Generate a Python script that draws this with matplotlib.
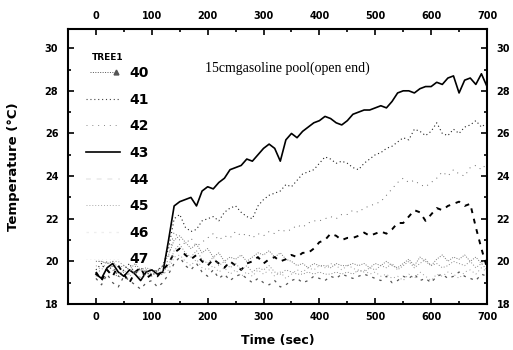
import numpy as np
import matplotlib
matplotlib.use("Agg")
import matplotlib.pyplot as plt
from matplotlib.lines import Line2D
from matplotlib.legend_handler import HandlerLine2D
from matplotlib.ticker import MultipleLocator

# ---------------- data ----------------
time_s = list(range(0, 701, 10))

series_names = ["40", "41", "42", "43", "44", "45", "46", "47"]

t40 = [20.0, 20.0, 19.9, 20.0, 19.7, 19.8, 19.6, 19.9, 19.6, 19.7, 19.6, 19.5, 19.8,
       20.3, 21.0, 21.2, 20.9, 20.6, 20.8, 20.4, 20.6, 20.2, 20.4,
       20.0, 20.2, 20.1, 20.3, 20.0, 20.2, 20.4, 20.3, 20.5, 20.2,
       20.4, 20.1, 20.0, 19.8, 19.9, 19.7, 19.9, 19.8, 19.8, 19.7,
       19.9, 19.8, 19.8, 19.9, 19.8, 19.9, 19.7, 19.9, 19.8, 20.0,
       19.8, 19.7, 19.9, 20.1, 19.8, 20.2, 20.0, 19.8, 20.1, 20.3,
       20.0, 20.2, 20.1, 20.3, 20.0, 20.2, 19.9, 20.1]

t41 = [19.6, 19.9, 19.5, 19.8, 19.3, 19.6, 19.9, 19.4, 19.7, 19.5, 19.3, 19.6, 19.8,
       20.6, 22.0, 22.2, 21.6, 21.4, 21.5, 21.9, 22.0, 22.1, 21.9,
       22.3, 22.5, 22.6, 22.3, 22.1, 22.0, 22.6, 22.9, 23.1, 23.2,
       23.3, 23.6, 23.5, 23.8, 24.1, 24.2, 24.3, 24.6, 24.9, 24.8,
       24.6, 24.7, 24.6, 24.4, 24.3, 24.6, 24.8, 25.0, 25.1, 25.3,
       25.4, 25.6, 25.8, 25.7, 26.2, 26.1, 25.9, 26.1, 26.5, 26.0,
       25.9, 26.2, 26.0, 26.3, 26.4, 26.6, 26.3, 26.5]

t42 = [19.3, 19.7, 20.0, 19.6, 19.2, 19.5, 19.4, 19.8, 19.2, 19.6, 19.4, 19.7, 19.3,
       20.2, 21.4, 21.0, 20.8, 21.1, 20.7, 20.9, 21.1, 21.3, 21.0,
       21.2, 21.1, 21.4, 21.2, 21.3, 21.1, 21.3, 21.2, 21.4, 21.3,
       21.5, 21.4, 21.5, 21.7, 21.6, 21.8, 21.9, 21.9, 22.0, 22.1,
       22.0, 22.2, 22.2, 22.4, 22.3, 22.5, 22.6, 22.7, 22.8, 23.1,
       23.4, 23.7, 23.9, 23.7, 23.8, 23.6, 23.5, 23.7, 23.9, 24.2,
       24.0, 24.3, 24.1, 24.0, 24.4, 24.5, 24.3, 24.6]

t43 = [19.4, 19.2, 19.7, 19.9, 19.5, 19.3, 19.6, 19.4, 19.1, 19.5, 19.6, 19.4, 19.5,
       21.0, 22.6, 22.8, 22.9, 23.0, 22.6, 23.3, 23.5, 23.4, 23.7,
       23.9, 24.3, 24.4, 24.5, 24.8, 24.7, 25.0, 25.3, 25.5, 25.3,
       24.7, 25.7, 26.0, 25.8, 26.1, 26.3, 26.5, 26.6, 26.8, 26.7,
       26.5, 26.4, 26.6, 26.9, 27.0, 27.1, 27.1, 27.2, 27.3, 27.2,
       27.5, 27.9, 28.0, 28.0, 27.9, 28.1, 28.2, 28.2, 28.4, 28.3,
       28.6, 28.7, 27.9, 28.5, 28.6, 28.3, 28.8, 28.2]

t44 = [19.5, 19.1, 19.6, 19.3, 19.8, 19.4, 19.0, 19.5, 19.7, 19.2, 19.4, 19.3, 19.6,
       19.9, 20.4, 20.6, 20.3, 20.1, 20.3, 20.0, 19.8, 20.1, 19.9,
       19.7, 20.0, 19.8, 19.6, 19.9, 20.0, 20.2, 19.9, 20.1, 20.2,
       20.0, 20.1, 20.3, 20.2, 20.4, 20.4, 20.6, 20.9, 21.0, 21.3,
       21.2, 21.0, 21.1, 21.1, 21.2, 21.35, 21.2, 21.3, 21.4, 21.3,
       21.5, 21.8, 21.8, 22.1, 22.4, 22.3, 21.9, 22.2, 22.5, 22.4,
       22.6, 22.7, 22.8, 22.6, 22.7, 21.6, 20.6, 19.7]

t45 = [20.0, 20.0, 19.9, 20.0, 20.0, 19.8, 19.6, 19.5, 19.6, 19.5, 19.5, 19.6, 19.5,
       19.8, 20.5, 20.8, 20.4, 20.2, 20.5, 20.1, 19.9, 20.2, 19.8,
       20.0, 19.7, 19.9, 19.6, 19.8, 19.5, 19.7, 19.6, 19.8, 19.5,
       19.4, 19.6, 19.5, 19.4, 19.4, 19.5, 19.4, 19.5, 19.4, 19.4,
       19.5, 19.4, 19.5, 19.4, 19.6, 19.5, 19.7, 19.6, 19.8, 19.7,
       19.9, 19.6, 19.8, 20.0, 19.7, 19.9, 20.1, 19.8, 19.9, 19.7,
       19.8, 20.0, 19.9, 19.8, 20.0, 19.7, 19.9, 19.6]

t46 = [19.2, 18.9, 19.4, 19.0, 18.8, 19.3, 19.1, 18.9, 18.7, 19.0, 19.1, 18.8, 19.0,
       19.4, 19.9, 20.2, 19.8, 19.6, 19.9, 19.5, 19.3, 19.6, 19.2,
       19.4, 19.1, 19.3, 19.4, 19.2, 19.0, 19.2, 19.0, 18.9, 19.1,
       18.8, 18.9, 19.1, 19.2, 19.0, 19.1, 19.3, 19.2, 19.1, 19.3,
       19.2, 19.4, 19.3, 19.2, 19.3, 19.4, 19.3, 19.2, 19.1, 19.3,
       19.0, 19.1, 19.3, 19.2, 19.4, 19.1, 19.2, 19.0, 19.3, 19.4,
       19.2, 19.3, 19.5, 19.3, 19.2, 19.1, 19.4, 19.3]

t47 = [19.8, 19.6, 20.0, 19.7, 19.4, 19.6, 19.3, 19.5, 19.2, 19.4, 19.3, 19.5, 19.4,
       19.6, 20.2, 20.3, 20.0, 19.8, 20.1, 19.7, 19.6, 19.8, 19.5,
       19.7, 19.4, 19.6, 19.3, 19.5, 19.3, 19.6, 19.4, 19.6, 19.3,
       19.5, 19.2, 19.4, 19.6, 19.5, 19.7, 19.6, 19.8, 19.7, 19.9,
       19.8, 19.6, 19.8, 19.7, 19.5, 19.6, 19.4, 19.5, 19.3, 19.4,
       19.2, 19.3, 19.1, 19.4, 19.2, 19.5, 19.3, 19.1, 19.4, 19.3,
       19.5, 19.4, 19.2, 19.5, 19.6, 19.4, 19.7, 19.5]

series_values = [t40, t41, t42, t43, t44, t45, t46, t47]

legend_title = "TREE1"
annotation = "15cmgasoline pool(open end)"
x_label = "Time (sec)"
y_label = "Temperature (\u00b0C)"

# ---------------- styles ----------------
styles = [
    dict(color="#777777", lw=0.7, ls=(0, (1, 1.5))),
    dict(color="#222222", lw=0.8, ls=(0, (1, 2.5))),
    dict(color="#666666", lw=0.7, ls=(0, (1, 5))),
    dict(color="black", lw=1.2, ls="-"),
    dict(color="black", lw=1.4, ls=(0, (2.5, 3))),
    dict(color="#888888", lw=0.7, ls=(0, (1, 2))),
    dict(color="#555555", lw=0.9, ls=(0, (2, 4))),
    dict(color="#999999", lw=0.7, ls=(0, (1, 3))),
]
# how the legend keys look in the scanned figure (several have faded out)
legend_colors = ["#555555", "#444444", "#888888", "black", "#eeeeee",
                 "#aaaaaa", "#eeeeee", "#eeeeee"]


class EndMarkerHandler(HandlerLine2D):
    def create_artists(self, legend, orig_handle, xdescent, ydescent, width,
                       height, fontsize, trans):
        arts = super().create_artists(legend, orig_handle, xdescent, ydescent,
                                      width, height, fontsize, trans)
        for a in arts:
            if a.get_marker() not in (None, "None", ""):
                a.set_markevery([len(a.get_xdata()) - 1])
        return arts


W, H = 513, 350
fig = plt.figure(figsize=(W / 100, H / 100), dpi=100)
ax_l, ax_r, ax_t, ax_b = 68, 487, 29, 304
ax = fig.add_axes([ax_l / W, 1 - ax_b / H, (ax_r - ax_l) / W, (ax_b - ax_t) / H])

for vals, st in zip(series_values, styles):
    ax.plot(time_s, vals, color=st["color"], lw=st["lw"], linestyle=st["ls"])

ax.set_xlim(-50, 700)
ax.set_ylim(18, 30.9)
ax.xaxis.set_major_locator(MultipleLocator(100))
ax.xaxis.set_minor_locator(MultipleLocator(50))
ax.yaxis.set_major_locator(MultipleLocator(2))
ax.yaxis.set_minor_locator(MultipleLocator(1))

ax.tick_params(which="both", direction="in", top=True, right=True,
               labeltop=True, labelright=True, width=1.2)
ax.tick_params(which="major", length=4.5, labelsize=7)
ax.tick_params(which="minor", length=2.5)
ax.tick_params(axis="x", which="major", pad=6)
ax.tick_params(axis="y", which="major", pad=7)
for t in ax.xaxis.get_major_ticks() + ax.yaxis.get_major_ticks():
    t.label1.set_fontweight("bold")
    t.label2.set_fontweight("bold")
for sp in ax.spines.values():
    sp.set_linewidth(1.5)

ax.set_ylabel(y_label, fontsize=9.5, fontweight="bold")
ax.yaxis.set_label_coords(-(68 - 20) / (ax_r - ax_l), 0.5)
ax.set_xlabel(x_label, fontsize=9, fontweight="bold")
ax.xaxis.set_label_coords(0.5, -(334 - ax_b) / (ax_b - ax_t))

ax.text((205 - ax_l) / (ax_r - ax_l), (ax_b - 68) / (ax_b - ax_t), annotation,
        transform=ax.transAxes, fontsize=10, family="Liberation Serif",
        ha="left", va="center")

# legend
ax.text((92 - ax_l) / (ax_r - ax_l), (ax_b - 57) / (ax_b - ax_t), legend_title,
        transform=ax.transAxes, fontsize=6.5, fontweight="bold",
        ha="left", va="center")
handles = []
for i, st in enumerate(styles):
    kw = dict(color=legend_colors[i], lw=st["lw"], linestyle=st["ls"])
    if i == 0:
        kw.update(marker="^", markersize=3.5)
    handles.append(Line2D([], [], **kw))
ax.legend(handles, series_names, loc="upper left",
          bbox_to_anchor=((86 - ax_l) / (ax_r - ax_l), (ax_b - 66) / (ax_b - ax_t)),
          frameon=False, borderpad=0, borderaxespad=0,
          handler_map={handles[0]: EndMarkerHandler(numpoints=2)},
          handlelength=2.45, handletextpad=0.7, labelspacing=0.91,
          prop=dict(size=10, weight="bold"))

fig.savefig("out.png", dpi=100)
